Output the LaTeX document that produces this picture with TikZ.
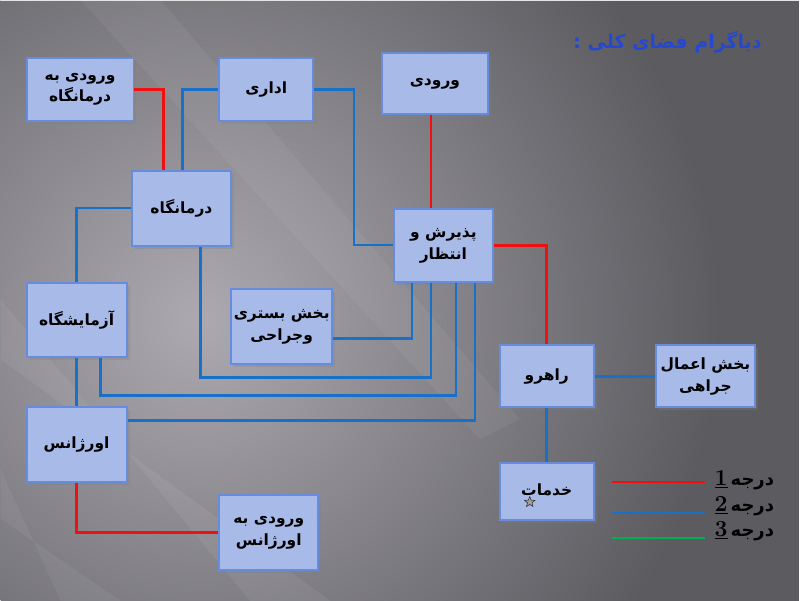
\documentclass[tikz,border=0pt]{standalone}
\usepackage{fontspec}
\newfontfamily\arabicfont[Script=Arabic]{DejaVu Sans}
\TeXXeTstate=1
\usetikzlibrary{positioning,shapes.geometric,shadows}
\definecolor{bgdark}{RGB}{92,91,96}
\definecolor{bglight}{RGB}{172,170,176}
\definecolor{boxfill}{RGB}{168,186,232}
\definecolor{boxdraw}{RGB}{104,140,220}
\definecolor{linered}{RGB}{240,16,16}
\definecolor{lineblue}{RGB}{24,112,200}
\definecolor{linegreen}{RGB}{0,176,80}
\definecolor{titleblue}{RGB}{36,72,210}
\newcommand{\fatext}[1]{{\arabicfont\bfseries\beginR #1\endR}}
\newcommand{\degnum}[1]{{\fontsize{23}{23}\selectfont\textbf{\underline{#1}}}}

\begin{document}
\begin{tikzpicture}[x=1pt,y=-1pt,
 room/.style={draw=boxdraw,line width=2pt,fill=boxfill,align=center,
 inner sep=2pt,font=\fontsize{15.5}{22}\selectfont,
 drop shadow={opacity=0.3,shadow xshift=3pt,shadow yshift=-3pt}},
 deg1/.style={line width=2.6pt,draw=linered},
 deg2/.style={line width=2.6pt,draw=lineblue},
 deg3/.style={line width=2.6pt,draw=linegreen},
 legtext/.style={font=\fontsize{18}{21}\selectfont,inner sep=1pt}]

 % background
 \begin{scope}
  \clip (0,0) rectangle (800,602);
  \fill[bgdark] (0,0) rectangle (800,602);
  \shade[inner color=bglight,outer color=bgdark] (200,320) circle (520);
  \fill[white,opacity=0.06] (0,300) -- (0,360) -- (330,602) -- (250,602) -- cycle;
  \fill[white,opacity=0.05] (80,0) -- (160,0) -- (520,420) -- (480,440) -- cycle;
  \fill[white,opacity=0.05] (0,470) -- (0,520) -- (120,602) -- (60,602) -- cycle;
 \end{scope}
 \draw[white!80!gray,line width=1.5pt] (0,0.75) -- (800,0.75);

 % title
 \node[font=\fontsize{19}{21}\selectfont,text=titleblue] (title) at (668,42)
  {\fatext{دیاگرام فضای کلی :}};

 % rooms
 \node[room,minimum width=107pt,minimum height=63pt] (vdarm) at (79.5,89.5)
  {\fatext{ورودی به}\\\fatext{درمانگاه}};
 \node[room,minimum width=94pt,minimum height=63pt] (edari) at (266,89.5)
  {\fatext{اداری}};
 \node[room,minimum width=106pt,minimum height=61pt] (vorudi) at (435,83.5)
  {\fatext{ورودی}};
 \node[room,minimum width=100pt,minimum height=75pt] (darm) at (181,208.5)
  {\fatext{درمانگاه}};
 \node[room,minimum width=99pt,minimum height=74pt] (paz) at (443.5,246)
  {\fatext{پذیرش و}\\\fatext{انتظار}};
 \node[room,minimum width=101pt,minimum height=75pt] (bastari) at (281.5,327.5)
  {\fatext{بخش بستری}\\\fatext{وجراحی}};
 \node[room,minimum width=100pt,minimum height=74pt] (azma) at (76,321)
  {\fatext{آزمایشگاه}};
 \node[room,minimum width=100pt,minimum height=75pt] (orzh) at (76,445.5)
  {\fatext{اورژانس}};
 \node[room,minimum width=99pt,minimum height=75pt] (vorzh) at (268.5,533.5)
  {\fatext{ورودی به}\\\fatext{اورژانس}};
 \node[room,minimum width=94pt,minimum height=62pt] (rahro) at (547,377)
  {\fatext{راهرو}};
 \node[room,minimum width=100pt,minimum height=62pt] (amal) at (706,377)
  {\fatext{بخش اعمال}\\\fatext{جراهی}};
 \node[room,minimum width=94pt,minimum height=57pt] (khad) at (547,492.5)
  {\raisebox{3pt}{\fatext{خدمات}}};
 \node[star,star points=5,star point ratio=2.3,fill=gray!75,draw=gray!30!black,
  line width=0.5pt,minimum size=11pt,inner sep=0pt] (khadstar) at (530,503) {};

 % connectors
 \draw[deg1] (vdarm.east) -| ([xshift=-18pt]darm.north);
 \draw[deg2] ([xshift=1pt]darm.north) |- (edari.west);
 \draw[deg2] (edari.east) -- ++(40,0) |- ([yshift=0.5pt]paz.west);
 \draw[deg1] ([xshift=-4pt]vorudi.south) -- ([xshift=-4pt]vorudi.south |- paz.north);
 \draw[deg1] (paz.east) -| (rahro.north);
 \draw[deg2] (rahro.east) -- (amal.west);
 \draw[deg2] (rahro.south) -- (khad.north);
 \draw[deg2] (darm.west) -| (azma.north);
 \draw[deg2] (azma.south) -- (orzh.north);
 \draw[deg2] ([yshift=-11.5pt]bastari.east) -| ([xshift=-31.5pt]paz.south);
 \draw[deg2] ([xshift=19pt]darm.south) -- ++(0,131) -| ([xshift=-12.5pt]paz.south);
 \draw[deg2] ([xshift=24pt]azma.south) -- ++(0,37) -| ([xshift=12.5pt]paz.south);
 \draw[deg2] ([yshift=24.5pt]orzh.east) -| ([xshift=31.5pt]paz.south);
 \draw[deg1] (orzh.south) |- (vorzh.west);

 % legend
 \node[legtext] (leg1) at (745,481) {\degnum{1}\,\fatext{درجه}};
 \node[legtext] (leg2) at (745,507) {\degnum{2}\,\fatext{درجه}};
 \node[legtext] (leg3) at (745,532) {\degnum{3}\,\fatext{درجه}};
 \draw[deg1] (612,483) -- (706,483);
 \draw[deg2] (612,514) -- (706,514);
 \draw[deg3] (612,539) -- (706,539);

\end{tikzpicture}
\end{document}
